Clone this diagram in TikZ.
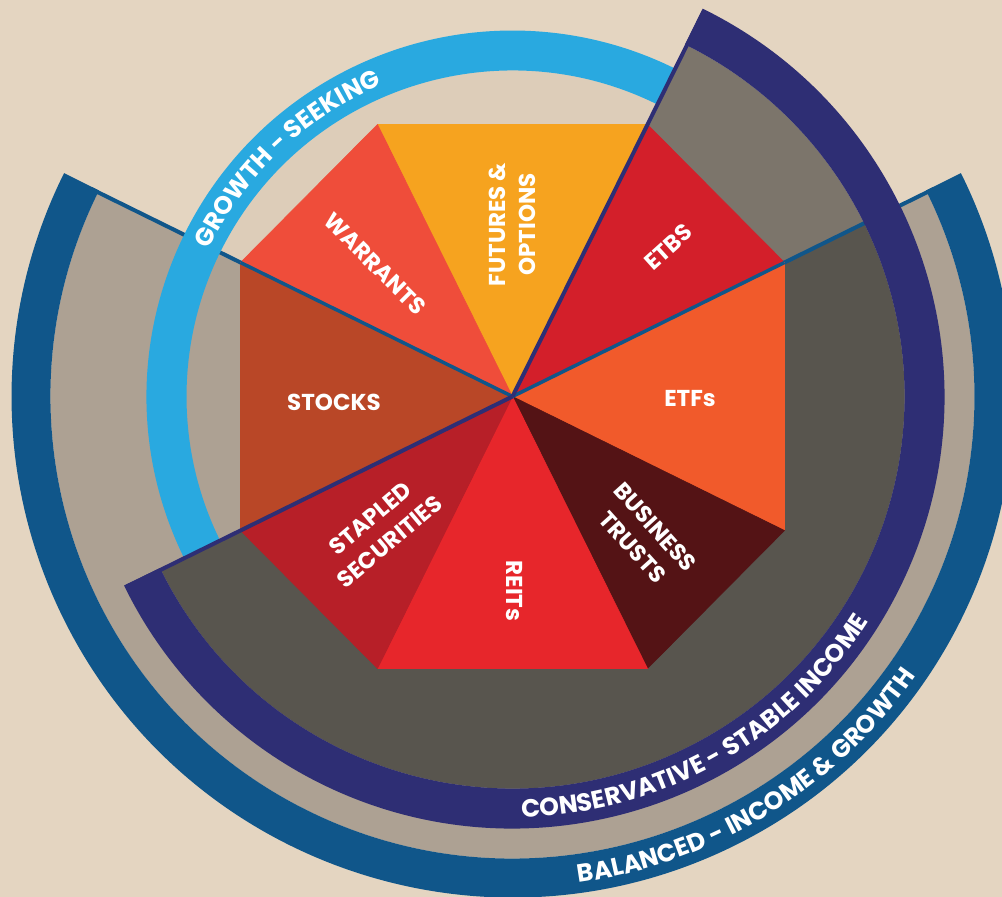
\documentclass[tikz,border=0pt]{standalone}
\usepackage{fontspec}
\newfontfamily\pop{Poppins}
\usetikzlibrary{decorations.text}
\definecolor{paper}{HTML}{E4D5C1}
\definecolor{growthshade}{HTML}{DDCDB9}
\definecolor{balshade}{HTML}{ADA193}
\definecolor{consshade}{HTML}{7C756B}
\definecolor{bothshade}{HTML}{58554E}
\definecolor{growthblue}{HTML}{29A9E0}
\definecolor{navyband}{HTML}{2E2E74}
\definecolor{steelband}{HTML}{10568A}
\definecolor{cFut}{HTML}{F6A31F}
\definecolor{cEtbs}{HTML}{D31F2A}
\definecolor{cEtfs}{HTML}{F15A2B}
\definecolor{cBus}{HTML}{541315}
\definecolor{cReit}{HTML}{E7262B}
\definecolor{cStap}{HTML}{B71F28}
\definecolor{cStock}{HTML}{B94727}
\definecolor{cWar}{HTML}{EF4D3A}
\begin{document}
\begin{tikzpicture}[x=1pt,y=1pt,
  lbl/.style={text=white, font=\pop\bfseries\fontsize{23}{30}\selectfont, align=center, inner sep=0pt},
  wedge/.style={fill=#1, draw=#1, line width=0.6pt, line join=round},
  ringtext/.style={decorate, decoration={text along path, text align=center, text color=white,
     text={|\pop\bfseries\fontsize{25}{25}\selectfont|#1}}}
]
\useasboundingbox (-512.5,-500.5) rectangle (489.5,396.5);
\fill[paper] (-512.5,-500.5) rectangle (489.5,396.5);

% key points
\coordinate (O) at (0,0);
\coordinate (V1) at (135,272);
\coordinate (V2) at (272,134);
\coordinate (V3) at (272,-134);
\coordinate (V4) at (135,-272);
\coordinate (V5) at (-135,-272);
\coordinate (V6) at (-272,-134);
\coordinate (V7) at (-272,134);
\coordinate (V8) at (-135,272);
\coordinate (sA) at (26.23:470);
\coordinate (sB) at (153.77:470);
\coordinate (nA) at (63.60:430);
\coordinate (nB) at (206.23:430);

% growth sector faint shade
\fill[growthshade] (O) -- (63.6:326) arc[start angle=63.6, end angle=206.23, radius=326] -- cycle;
% balanced sector shade
\fill[balshade] (O) -- (153.77:462) arc[start angle=153.77, end angle=386.23, radius=462] -- cycle;
% conservative sector shade (overlap part darker)
\fill[bothshade] (O) -- (-153.77:392) arc[start angle=-153.77, end angle=26.23, radius=392] -- cycle;
\fill[consshade] (O) -- (26.23:392) arc[start angle=26.23, end angle=63.6, radius=392] -- cycle;
% balanced edge lines
\draw[steelband, line width=4pt] (O) -- (sA);
\draw[steelband, line width=4pt] (O) -- (sB);
% balanced band (ends flush with the outer edge of the edge lines)
\fill[steelband] (153.52:462) arc[start angle=153.52, end angle=386.48, radius=462]
   -- (386.48:501) arc[start angle=386.48, end angle=153.52, radius=501] -- cycle;
% conservative band
\fill[navyband] (-154.05:392) arc[start angle=-154.05, end angle=63.88, radius=392]
   -- (63.88:432) arc[start angle=63.88, end angle=-154.05, radius=432] -- cycle;
% growth band
\fill[growthblue] (63.6:326) arc[start angle=63.6, end angle=206.23, radius=326]
   -- (206.23:366) arc[start angle=206.23, end angle=63.6, radius=366] -- cycle;

% octagon wedges
\path[wedge=cFut]   (O) -- (V8) -- (V1) -- cycle;
\path[wedge=cEtbs]  (O) -- (V1) -- (V2) -- cycle;
\path[wedge=cEtfs]  (O) -- (V2) -- (V3) -- cycle;
\path[wedge=cBus]   (O) -- (V3) -- (V4) -- cycle;
\path[wedge=cReit]  (O) -- (V4) -- (V5) -- cycle;
\path[wedge=cStap]  (O) -- (V5) -- (V6) -- cycle;
\path[wedge=cStock] (O) -- (V6) -- (V7) -- cycle;
\path[wedge=cWar]   (O) -- (V7) -- (V8) -- cycle;

% divider lines over octagon
\draw[steelband, line width=3.5pt] (O) -- (V2);
\draw[steelband, line width=3.5pt] (O) -- (V7);
\draw[navyband, line width=4pt] (O) -- (nA);
\draw[navyband, line width=4pt] (O) -- (nB);

% labels
\node[lbl, rotate=90]  (fut)    at (0,172)         {FUTURES \&\\OPTIONS};
\node[lbl, rotate=-45] (war)    at (-137.5,132.5)  {WARRANTS};
\node[lbl, rotate=42]  (etbs)   at (156,149.5)     {ETBS};
\node[lbl]             (etfs)   at (177.5,-2.5)    {ETFs};
\node[lbl]             (stocks) at (-178.5,-6)     {STOCKS};
\node[lbl, rotate=-48] (bus)    at (131.5,-140.5)  {BUSINESS\\TRUSTS};
\node[lbl, rotate=-90] (reits)  at (1.5,-194.5)    {REITs};
\node[lbl, rotate=40]  (stap)   at (-132.5,-133.5) {STAPLED\\SECURITIES};

% ring texts
\path[ringtext={GROWTH - SEEKING}] (168.5:337.5) arc[start angle=168.5, end angle=98.5, radius=337.5];
\path[ringtext={CONSERVATIVE - STABLE INCOME}] (-105:421) arc[start angle=-105, end angle=-16, radius=421];
\path[ringtext={BALANCED - INCOME {\&} GROWTH}] (-103:490.5) arc[start angle=-103, end angle=-14, radius=490.5];
\end{tikzpicture}
\end{document}
